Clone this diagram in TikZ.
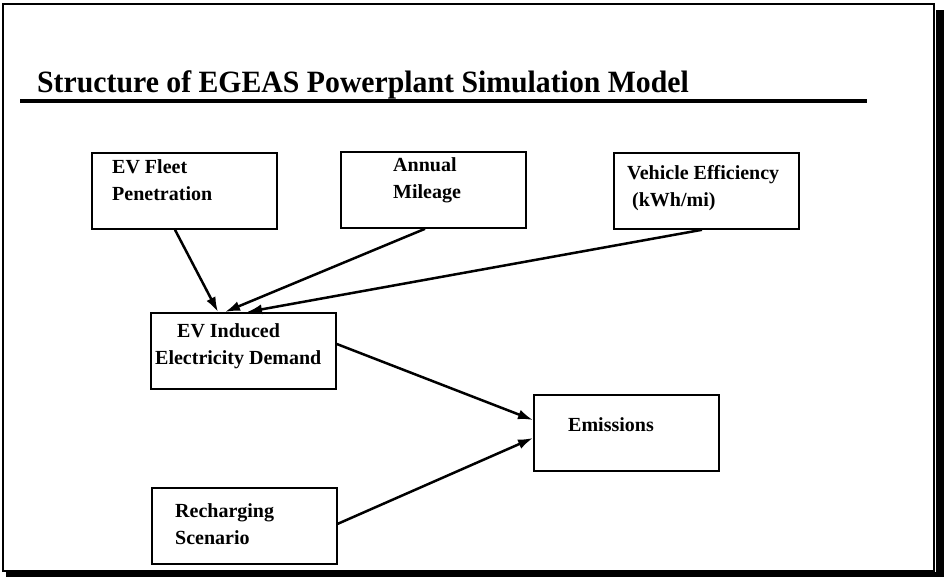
\documentclass[tikz,border=0pt]{standalone}
\usepackage{fontspec}
\setmainfont{Liberation Serif}
\usetikzlibrary{arrows.meta, positioning}

\begin{document}
\begin{tikzpicture}[
    x=1pt, y=-1pt,
    box/.style={rectangle, draw, line width=1.8pt, minimum width=185pt,
        minimum height=76pt, inner sep=0pt, anchor=north west},
    txt/.style={inner sep=0pt, align=left, font=\fontsize{20}{27}\selectfont\bfseries},
    arr/.style={-{Latex[length=15pt, width=10pt]}, line width=2.5pt}
]
    \useasboundingbox (0,0) rectangle (944,577);

    % page frame with drop shadow
    \fill (936,10) rectangle (944,577);
    \fill (6,572) rectangle (944,577);
    \draw[line width=2pt] (3,4) rectangle (934,571);

    % heading
    \node[anchor=base west, inner sep=0pt, font=\fontsize{31}{31}\selectfont\bfseries] (title) at (37,93)
        {\scalebox{0.96}[1]{Structure of EGEAS Powerplant Simulation Model}};
    \draw[line width=4pt] (20,101) -- (867,101);

    % input boxes
    \node[box] (fl) at (91,152) {};
    \node[box] (mi) at (340,151) {};
    \node[box] (ve) at (613,152) {};
    \node[txt, below right=7pt and 21pt of fl.north west] (fl-t) {EV Fleet\\Penetration};
    \node[txt, below right=6pt and 53pt of mi.north west] (mi-t) {Annual\\Mileage};
    \node[txt, below right=13pt and 14pt of ve.north west] (ve-t) {Vehicle Efficiency\\\hspace*{5pt}(kWh/mi)};

    % demand, recharging, emissions
    \node[box] (dem) at (150,312) {};
    \node[box] (rc) at (151,487) {};
    \node[box] (emi) at (533,394) {};
    \node[txt, below right=11pt and 5pt of dem.north west] (dem-t) {\hspace*{22pt}EV Induced\\Electricity Demand};
    \node[txt, below right=16pt and 24pt of rc.north west] (rc-t) {Recharging\\Scenario};
    \node[txt, below right=23pt and 35pt of emi.north west] (emi-t) {Emissions};

    % inputs into demand
    \draw[arr] ([xshift=84pt]fl.south west) -- ([xshift=68pt]dem.north west);
    \draw[arr] ([xshift=85pt]mi.south west) -- ([xshift=75pt]dem.north west);
    \draw[arr] ([xshift=89pt]ve.south west) -- ([xshift=97pt]dem.north west);
    % into emissions
    \draw[arr] ([yshift=-32pt]dem.north east) -- ([yshift=-26pt]emi.north west);
    \draw[arr] ([yshift=41pt]rc.south east) -- ([yshift=-44pt]emi.north west);
\end{tikzpicture}
\end{document}
